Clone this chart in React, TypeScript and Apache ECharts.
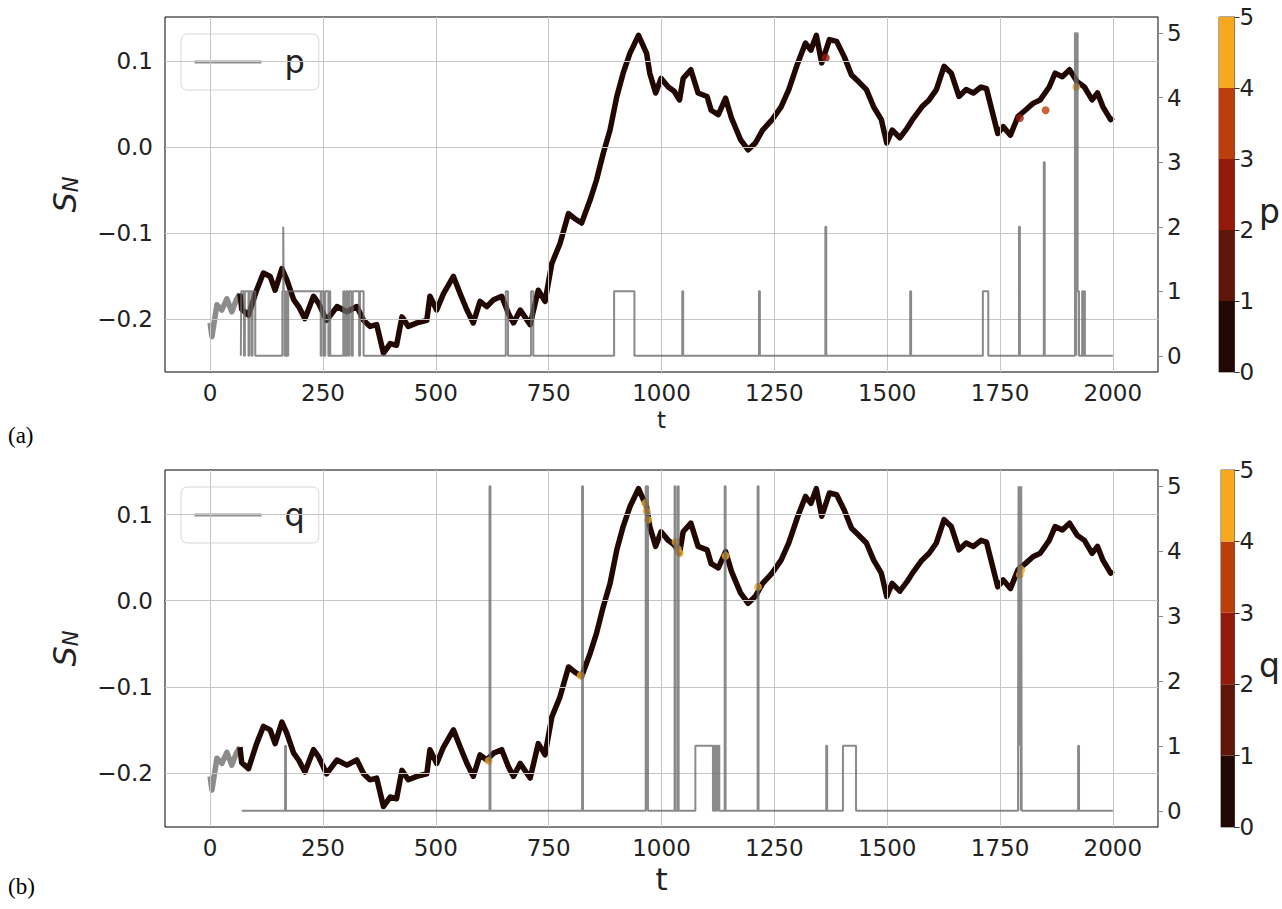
import React, { useEffect, useRef } from "react";
import * as echarts from "echarts";

// ---- S_N time series (shared by both panels) ----
const sT = [0,4,15,26,37,48,58,66,70,85,103,118,133,144,159,170,185,196,210,229,240,258,281,303,325,340,354,369,384,399,413,425,439,458,480,487,502,517,539,554,569,583,598,613,628,646,661,672,687,709,727,742,757,775,794,808,823,842,856,871,886,901,915,930,949,967,974,987,999,1015,1028,1040,1048,1065,1081,1101,1110,1126,1142,1155,1175,1192,1208,1224,1245,1265,1282,1302,1319,1331,1343,1355,1372,1388,1405,1421,1437,1454,1470,1487,1499,1511,1528,1544,1556,1577,1593,1609,1626,1642,1659,1675,1691,1708,1720,1732,1745,1757,1773,1790,1806,1823,1839,1859,1872,1888,1904,1921,1937,1954,1966,1978,1995,2000];
const sV = [-0.204,-0.220,-0.183,-0.189,-0.176,-0.191,-0.177,-0.170,-0.188,-0.195,-0.166,-0.146,-0.150,-0.166,-0.141,-0.154,-0.177,-0.185,-0.199,-0.173,-0.181,-0.201,-0.185,-0.191,-0.185,-0.201,-0.208,-0.206,-0.239,-0.228,-0.230,-0.197,-0.208,-0.204,-0.201,-0.173,-0.189,-0.170,-0.150,-0.170,-0.189,-0.204,-0.179,-0.185,-0.177,-0.173,-0.193,-0.204,-0.189,-0.206,-0.166,-0.179,-0.135,-0.112,-0.077,-0.083,-0.088,-0.061,-0.038,-0.007,0.020,0.059,0.086,0.109,0.130,0.109,0.086,0.063,0.080,0.070,0.065,0.055,0.080,0.090,0.063,0.059,0.043,0.038,0.057,0.034,0.009,-0.003,0.005,0.020,0.032,0.047,0.067,0.098,0.121,0.113,0.130,0.098,0.125,0.123,0.105,0.084,0.076,0.067,0.047,0.032,0.005,0.020,0.011,0.022,0.032,0.047,0.055,0.067,0.094,0.086,0.059,0.067,0.063,0.070,0.068,0.043,0.016,0.024,0.014,0.036,0.043,0.051,0.055,0.070,0.086,0.082,0.090,0.076,0.070,0.055,0.063,0.047,0.032,0.035];

// ---- p (panel a): change points, value holds until next time ----
const pT = [68,69,75,77,85,87,92,94,100,160,162,163,165,168,170,173,240,245,247,252,255,262,264,266,295,298,302,305,308,313,316,330,332,340,655,660,711,716,895,940,1046,1048,1216,1218,1363,1365,1551,1553,1712,1724,1792,1794,1847,1849,1916,1919,1920,1922,1925,1932,1934,1936,1938,2000];
const pV = [0,1,0,1,0,1,0,1,0,1,2,1,0,1,0,1,1,0,1,0,1,0,1,0,1,0,1,0,1,0,1,0,1,0,1,0,1,0,1,0,1,0,1,0,2,0,1,0,1,0,2,0,3,0,5,0,5,1,0,1,0,1,0,0];

// ---- q (panel b) ----
const qT = [70,166,168,619,621,824,826,965,967,968,970,1029,1031,1036,1038,1075,1114,1116,1118,1120,1123,1125,1128,1140,1142,1213,1215,1365,1367,1402,1431,1790,1791,1792,1793,1794,1795,1796,1797,1798,1923,1925,2000];
const qV = [0,1,0,5,0,5,0,5,0,5,0,5,0,5,0,1,0,1,0,1,0,1,0,5,0,5,0,1,0,1,0,1,5,1,5,1,5,0,5,0,1,0,0];

// ---- coloured points of the S_N curve (value of p / q there) ----
const hiA_T = [1364, 1794, 1851, 1919];
const hiA_S = [0.104, 0.034, 0.043, 0.070];
const hiA_L = [2, 2, 3, 5];
const hiB_T = [617, 821, 964, 967, 970, 1031, 1036, 1040, 1142, 1214, 1794, 1797];
const hiB_S = [-0.186, -0.087, 0.113, 0.104, 0.094, 0.068, 0.060, 0.055, 0.052, 0.016, 0.030, 0.036];
const hiB_L = [5, 5, 5, 5, 5, 5, 5, 5, 5, 5, 5, 5];

// ---- ticks ----
const xTicks = [0, 250, 500, 750, 1000, 1250, 1500, 1750, 2000];
const yTicks = [-0.2, -0.1, 0.0, 0.1];
const rTicks = [0, 1, 2, 3, 4, 5];
const cbLevels = [0, 1, 2, 3, 4];
const CMAP = ["#210802", "#5e1609", "#931a0b", "#bc3e0a", "#f6a91f"];
const BAD = "#8c8c8c";
const STEP_COLOR = "rgba(105,105,105,0.78)";

const FONT = "DejaVu Sans";

const fmtY = (v: number) => (v < 0 ? "\u2212" + Math.abs(v).toFixed(1) : v.toFixed(1));
const levelColor = (l: number) => CMAP[Math.max(0, Math.min(4, Math.floor(l)))];

function buildOption() {
  const pStartA = pT[0];
  const pStartB = qT[0];
  const sPairs = sT.map((t, i) => [t, sV[i]]);
  const greyPart = (start: number) => sPairs.filter((d) => d[0] <= start - 2);
  const darkPart = (start: number) => {
    const g = greyPart(start);
    const last = g[g.length - 1][0];
    return sPairs.filter((d) => d[0] >= last);
  };

  const grids = [
    { left: 165, top: 17, width: 993, height: 355 },
    { left: 165, top: 470, width: 993, height: 357 },
    { left: 1219, top: 17, width: 18, height: 355 },
    { left: 1221, top: 470, width: 19, height: 357 },
  ].map((g) => ({ ...g, show: true, borderColor: "#000", borderWidth: 1, backgroundColor: "transparent" }));
  grids[2].borderColor = "#555";
  grids[3].borderColor = "#555";

  const makeX = (gridIndex: number, nameSize: number, nameGap: number) => ({
    type: "value",
    gridIndex,
    min: -100,
    max: 2100,
    name: "t",
    nameLocation: "middle",
    nameGap,
    nameTextStyle: { fontFamily: FONT, fontSize: nameSize, color: "#222" },
    axisLine: { show: true, lineStyle: { color: "#000", width: 1 } },
    axisTick: { show: true, customValues: xTicks, length: 5, inside: false, lineStyle: { color: "#000" } },
    axisLabel: { customValues: xTicks, fontFamily: FONT, fontSize: 23, color: "#222", margin: 9, formatter: (v: number) => String(v) },
    splitLine: { show: false },
  });
  const makeCbX = (gridIndex: number) => ({
    type: "category",
    gridIndex,
    data: ["c"],
    show: false,
    boundaryGap: true,
  });
  const makeYL = (gridIndex: number, min: number, max: number) => ({
    type: "value",
    gridIndex,
    position: "left",
    min,
    max,
    name: "{s|S}{n|N}",
    nameLocation: "middle",
    nameRotate: 90,
    nameGap: 84,
    nameTextStyle: {
      color: "#222",
      rich: {
        s: { fontFamily: FONT, fontStyle: "italic", fontSize: 32, lineHeight: 34, verticalAlign: "bottom", color: "#222" },
        n: { fontFamily: FONT, fontStyle: "italic", fontSize: 21, lineHeight: 12, verticalAlign: "bottom", color: "#222" },
      },
    },
    axisLine: { show: true, lineStyle: { color: "#000" } },
    axisTick: { show: true, customValues: yTicks, length: 5, lineStyle: { color: "#000" } },
    axisLabel: { customValues: yTicks, fontFamily: FONT, fontSize: 23, color: "#222", margin: 12, formatter: fmtY },
    splitLine: { show: false },
  });
  const makeYR = (gridIndex: number) => ({
    type: "value",
    gridIndex,
    position: "right",
    min: -0.25,
    max: 5.25,
    axisLine: { show: true, lineStyle: { color: "#8a8a8a" } },
    axisTick: { show: true, customValues: rTicks, length: 5, lineStyle: { color: "#8a8a8a" } },
    axisLabel: { customValues: rTicks, fontFamily: FONT, fontSize: 23, color: "#222", margin: 9, formatter: (v: number) => String(v) },
    splitLine: { show: false },
  });
  const makeCbY = (gridIndex: number, name: string) => ({
    type: "value",
    gridIndex,
    position: "right",
    min: 0,
    max: 5,
    interval: 1,
    name,
    nameLocation: "middle",
    nameRotate: 0,
    nameGap: 21,
    nameTextStyle: { fontFamily: FONT, fontSize: 33, color: "#222", align: "left", verticalAlign: "top" },
    axisLine: { show: true, lineStyle: { color: "#555" } },
    axisTick: { show: true, length: 5, lineStyle: { color: "#333" } },
    axisLabel: { fontFamily: FONT, fontSize: 23, color: "#222", margin: 5 },
    splitLine: { show: false },
  });

  const gridLineSeries = (xi: number, yi: number) => ({
    type: "line",
    xAxisIndex: xi,
    yAxisIndex: yi,
    data: [[0, 0]],
    symbol: "none",
    lineStyle: { opacity: 0 },
    silent: true,
    z: 1,
    markLine: {
      silent: true,
      symbol: ["none", "none"],
      label: { show: false },
      animation: false,
      lineStyle: { color: "#c6c6c6", width: 1, type: "solid" },
      data: [...yTicks.map((v) => ({ yAxis: v })), ...xTicks.map((v) => ({ xAxis: v }))],
    },
  });

  const curveSeries = (xi: number, yi: number, start: number) => [
    {
      type: "line",
      xAxisIndex: xi,
      yAxisIndex: yi,
      data: greyPart(start),
      symbol: "none",
      lineStyle: { color: BAD, width: 5.5, join: "round" },
      z: 3,
      silent: true,
    },
    {
      type: "line",
      xAxisIndex: xi,
      yAxisIndex: yi,
      data: darkPart(start),
      symbol: "none",
      lineStyle: { color: CMAP[0], width: 5.5, join: "round" },
      z: 3,
      silent: true,
    },
  ];

  const hiSeries = (xi: number, yi: number, T: number[], S: number[], L: number[]) => ({
    type: "scatter",
    xAxisIndex: xi,
    yAxisIndex: yi,
    symbolSize: 8,
    z: 4,
    silent: true,
    data: T.map((t, i) => ({ value: [t, S[i]], itemStyle: { color: levelColor(L[i]) } })),
  });

  const stepSeries = (name: string, xi: number, yi: number, T: number[], V: number[]) => ({
    name,
    type: "line",
    xAxisIndex: xi,
    yAxisIndex: yi,
    step: "end",
    data: T.map((t, i) => [t, V[i]]),
    symbol: "none",
    showSymbol: false,
    lineStyle: { color: STEP_COLOR, width: 2 },
    itemStyle: { color: STEP_COLOR },
    z: 5,
    silent: true,
  });

  const cbSeries = (xi: number, yi: number, stack: string) =>
    cbLevels.map((l) => ({
      type: "bar",
      xAxisIndex: xi,
      yAxisIndex: yi,
      stack,
      barWidth: "100%",
      data: [1],
      itemStyle: { color: CMAP[l] },
      silent: true,
    }));

  const legend = (name: string, top: number) => ({
    data: [name],
    left: 181,
    top,
    orient: "horizontal",
    padding: [12, 14, 12, 12],
    itemWidth: 67,
    itemHeight: 14,
    itemStyle: { opacity: 0 },
    lineStyle: { color: "#8f8f8f", width: 3 },
    borderColor: "#d8d8d8",
    borderWidth: 1,
    borderRadius: 6,
    backgroundColor: "rgba(255,255,255,0.85)",
    textStyle: { fontFamily: FONT, fontSize: 32, color: "#222", padding: [0, 0, 0, 18] },
    selectedMode: false,
  });

  return {
    animation: false,
    backgroundColor: "#fff",
    grid: grids,
    xAxis: [makeX(0, 23, 36), makeX(1, 31, 36), makeCbX(2), makeCbX(3)],
    yAxis: [
      makeYL(0, -0.261, 0.1513),
      makeYR(0),
      makeYL(1, -0.2628, 0.1517),
      makeYR(1),
      makeCbY(2, "p"),
      makeCbY(3, "q"),
    ],
    legend: [legend("p", 34), legend("q", 487)],
    series: [
      gridLineSeries(0, 0),
      ...curveSeries(0, 0, pStartA),
      hiSeries(0, 0, hiA_T, hiA_S, hiA_L),
      stepSeries("p", 0, 1, pT, pV),
      gridLineSeries(1, 2),
      ...curveSeries(1, 2, pStartB),
      hiSeries(1, 2, hiB_T, hiB_S, hiB_L),
      stepSeries("q", 1, 3, qT, qV),
      ...cbSeries(2, 4, "cbA"),
      ...cbSeries(3, 5, "cbB"),
    ],
    graphic: [
      { type: "text", left: 8, top: 424, style: { text: "(a)", font: "23px 'Liberation Serif'", fill: "#000" } },
      { type: "text", left: 8, top: 875, style: { text: "(b)", font: "23px 'Liberation Serif'", fill: "#000" } },
    ],
  };
}

export default function App() {
  const ref = useRef<HTMLDivElement>(null);
  useEffect(() => {
    document.body.style.margin = "0";
    if (!ref.current) return;
    const chart = echarts.init(ref.current, undefined, { renderer: "svg" });
    chart.setOption(buildOption() as any);
    return () => chart.dispose();
  }, []);
  return <div ref={ref} style={{ position: "absolute", left: 0, top: 0, width: 1282, height: 909 }} />;
}
